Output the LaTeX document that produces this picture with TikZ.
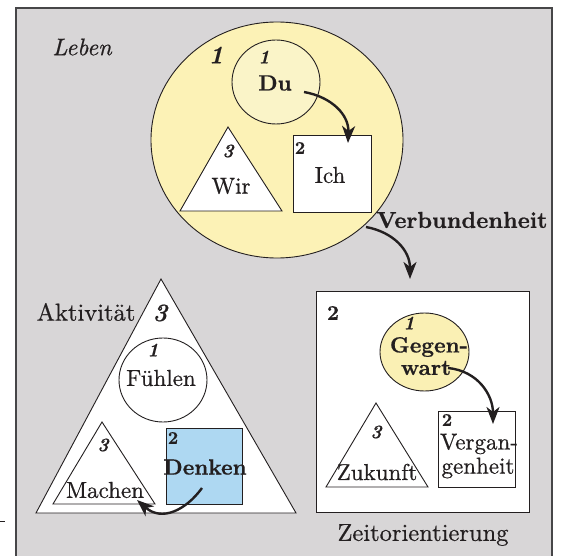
\documentclass[tikz,border=0pt]{standalone}
\usepackage{fontspec}
\setmainfont{lmroman10-regular.otf}[
  BoldFont=lmroman10-bold.otf,
  ItalicFont=lmroman10-italic.otf,
  BoldItalicFont=lmroman10-bolditalic.otf,
  FakeBold=0.6]
\usetikzlibrary{arrows.meta,shapes.geometric}
\definecolor{bggray}{RGB}{216,214,215}
\definecolor{framecol}{RGB}{70,70,72}
\definecolor{ink}{RGB}{35,31,32}
\definecolor{bigyellow}{RGB}{252,242,182}
\definecolor{lightyellow}{RGB}{250,244,200}
\definecolor{midyellow}{RGB}{250,240,180}
\definecolor{lightblue}{RGB}{174,216,242}
\tikzset{
  txt/.style={inner sep=0pt, text=ink, font=\fontsize{23}{26}\selectfont},
  btxt/.style={inner sep=0pt, text=ink, font=\fontsize{22}{25}\selectfont\bfseries},
  outer/.style={inner sep=0pt, text=ink, font=\fontsize{24.5}{27}\selectfont},
  inum/.style={inner sep=0pt, text=ink, font=\fontsize{19}{21}\selectfont\bfseries\itshape},
  unum/.style={inner sep=0pt, text=ink, font=\fontsize{18}{20}\selectfont\bfseries},
  bignum/.style={inner sep=0pt, text=ink, font=\fontsize{25}{28}\selectfont\bfseries\itshape},
  shapeline/.style={draw=ink, line width=0.9pt},
  oval/.style={shapeline, ellipse, inner sep=0pt},
  arr/.style={draw=ink, line width=2.4pt, -{Stealth[length=17pt, width=13pt, inset=5pt]}},
}
\begin{document}
\begin{tikzpicture}[x=1pt, y=-1pt]
\useasboundingbox (0,0) rectangle (563,556);
% frame
\fill[bggray] (16,8) rectangle (552,556);
\draw[framecol, line width=1.6pt] (16,556) -- (16,8) -- (552,8) -- (552,556);
\coordinate (dashA) at (0,521.5);
\coordinate (dashB) at (5,521.5);
\draw[ink, line width=1pt] (dashA) -- (dashB);

% ===== Leben (top) =====
\node[txt, font=\fontsize{24}{27}\selectfont\itshape] (leben) at (82,47) {Leben};
\node[oval, fill=bigyellow, minimum width=252pt, minimum height=236pt] (bigcirc) at (277,140) {};
\node[bignum] (n1top) at (216,55) {1};
\node[oval, fill=lightyellow, minimum width=88pt, minimum height=84pt] (ducirc) at (276,82) {};
\node[inum] (n1du) at (264,57) {1};
\node[btxt] (du) at (275,83) {Du};
\draw[shapeline, fill=white] (228,127) coordinate (wirT) -- (180,211) coordinate (wirL) -- (282,211) coordinate (wirR) -- cycle;
\node[inum] (n3wir) at (228,151) {3};
\node[txt] (wir) at (231,186) {Wir};
\node[shapeline, fill=white, minimum width=78pt, minimum height=77pt, inner sep=0pt] (ichbox) at (332,173.5) {};
\node[unum] (n2ich) at (300,148) {2};
\node[txt] (ich) at (330,175) {Ich};
\coordinate (a1s) at (304,92);
\coordinate (a1e) at (348,143);
\draw[arr] (a1s) .. controls (332,97) and (349,115) .. (a1e);

\node[btxt, font=\fontsize{23}{26}\selectfont\bfseries] (verb) at (462,220) {Verbundenheit};
\coordinate (a2s) at (366,227);
\coordinate (a2e) at (410,279);
\draw[arr] (a2s) .. controls (393,232) and (410,250) .. (a2e);

% ===== Aktivitaet (left) =====
\draw[shapeline, fill=white] (161,279) coordinate (aktT) -- (36,513) coordinate (aktL) -- (296,513) coordinate (aktR) -- cycle;
\node[outer] (akt) at (86,312) {Aktivität};
\node[bignum] (n3akt) at (160,313) {3};
\node[oval, fill=white, minimum width=88pt, minimum height=84pt] (fuehlcirc) at (163,380) {};
\node[inum] (n1f) at (153,350) {1};
\node[txt] (fuehlen) at (161,378) {Fühlen};
\draw[shapeline, fill=white] (102,422) coordinate (machT) -- (53,504) coordinate (machL) -- (155,504) coordinate (machR) -- cycle;
\node[inum] (n3m) at (103,445) {3};
\node[txt] (machen) at (105,490) {Machen};
\node[shapeline, fill=lightblue, minimum width=76pt, minimum height=76pt, inner sep=0pt] (denkbox) at (204,466) {};
\node[unum] (n2d) at (173,438) {2};
\node[btxt] (denken) at (205,467) {Denken};
\coordinate (a4s) at (202,488);
\coordinate (a4e) at (137,500);
\draw[arr] (a4s) .. controls (186,510) and (162,522) .. (a4e);

% ===== Zeitorientierung (right) =====
\node[shapeline, fill=white, minimum width=213pt, minimum height=221pt, inner sep=0pt] (zeitbox) at (422.5,401.5) {};
\node[unum, font=\fontsize{21}{23}\selectfont\bfseries] (n2z) at (333,313) {2};
\node[oval, fill=midyellow, minimum width=89pt, minimum height=78pt] (gegencirc) at (424.5,352) {};
\node[inum] (n1g) at (409,323) {1};
\node[btxt] (gegen) at (429,347) {Gegen-};
\node[btxt] (wart) at (426,368) {wart};
\draw[shapeline, fill=white] (376,403) coordinate (zukT) -- (326,487) coordinate (zukL) -- (428,487) coordinate (zukR) -- cycle;
\node[inum] (n3z) at (376,432) {3};
\node[txt] (zukunft) at (377,472) {Zukunft};
\node[shapeline, fill=white, minimum width=77pt, minimum height=76pt, inner sep=0pt] (vergbox) at (476.5,449) {};
\node[unum] (n2v) at (447,420) {2};
\node[txt] (vergan) at (479,444) {Vergan-};
\node[txt] (genheit) at (478,468) {genheit};
\coordinate (a3s) at (448,368);
\coordinate (a3e) at (493,424);
\draw[arr] (a3s) .. controls (478,371) and (493,395) .. (a3e);
\node[outer] (zeit) at (423,535) {Zeitorientierung};
\end{tikzpicture}
\end{document}
